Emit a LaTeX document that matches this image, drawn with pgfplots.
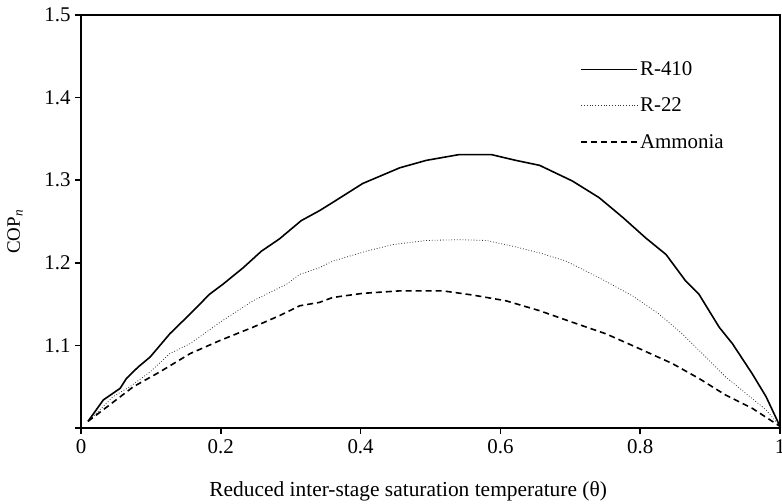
\documentclass[border=0pt]{standalone}
\usepackage{fontspec}
\setmainfont{Liberation Serif}
\usepackage{pgfplots}
\pgfplotsset{compat=1.18}
\begin{document}
\begin{tikzpicture}
\begin{pgfinterruptboundingbox}
\begin{axis}[
  name=ax,
  scale only axis,
  width=699bp, height=413bp,
  xmin=0, xmax=1, ymin=1.0, ymax=1.5,
  axis line style={line width=1.6bp},
  tick style={line width=1.6bp, black},
  major tick length=6bp,
  tick align=outside,
  xtick pos=bottom, ytick pos=left,
  xtick={0,0.2,0.4,0.6,0.8,1},
  xticklabels={0,0.2,0.4,0.6,0.8,1},
  ytick={1.0,1.1,1.2,1.3,1.4,1.5},
  yticklabels={,1.1,1.2,1.3,1.4,1.5},
  /pgf/number format/assume math mode=true,
  ticklabel style={font=\fontsize{21}{24}\selectfont},
  xticklabel style={yshift=-2bp},
  yticklabel style={xshift=-1bp},
  xlabel={Reduced inter-stage saturation temperature (θ)},
  ylabel={COP\textsubscript{\itshape n}},
  every axis x label/.style={at={([yshift=-63bp]rel axis cs:0.468,0)}, anchor=center,
     font=\fontsize{21.5}{24}\selectfont},
  every axis y label/.style={at={([xshift=-66bp]rel axis cs:0,0.475)}, anchor=center, rotate=90,
     font=\fontsize{19}{22}\selectfont},
  legend style={draw=none, fill=none, at={(rel axis cs:0.71,0.897)}, anchor=north west,
    font=\fontsize{21}{24}\selectfont, row sep=17bp,
    /tikz/every even column/.append style={column sep=0bp}},
  legend cell align=left,
  legend image code/.code={\draw[#1] (0bp,0bp) -- (56bp,0bp);},
]
\addplot[black, line width=1.6bp] coordinates {
(0.01,1.008) (0.032,1.034) (0.056,1.048) (0.065,1.060) (0.082,1.074) (0.099,1.086)
(0.127,1.114) (0.156,1.138) (0.184,1.162) (0.203,1.174) (0.232,1.194) (0.258,1.214)
(0.284,1.229) (0.315,1.251) (0.341,1.263) (0.360,1.273) (0.403,1.296) (0.456,1.315)
(0.494,1.324) (0.541,1.331) (0.587,1.331) (0.622,1.324) (0.656,1.318) (0.703,1.299)
(0.741,1.279) (0.775,1.255) (0.808,1.230) (0.837,1.210) (0.865,1.178) (0.884,1.162)
(0.913,1.122) (0.932,1.102) (0.960,1.066) (0.980,1.038) (1.0,1.002)};
\addlegendentry{R-410}
\addplot[black!80, line width=0.8bp, dotted] coordinates {
(0.01,1.008) (0.046,1.038) (0.070,1.050) (0.099,1.068) (0.127,1.090) (0.156,1.102)
(0.199,1.128) (0.246,1.154) (0.294,1.174) (0.313,1.186) (0.341,1.194) (0.360,1.202)
(0.408,1.214) (0.446,1.222) (0.494,1.227) (0.541,1.228) (0.580,1.227) (0.618,1.220)
(0.656,1.212) (0.694,1.202) (0.741,1.182) (0.789,1.160) (0.827,1.138) (0.860,1.114)
(0.889,1.090) (0.922,1.062) (0.951,1.042) (0.980,1.022) (1.0,1.002)};
\addlegendentry{R-22}
\addplot[black, line width=1.6bp, dash pattern=on 6bp off 4bp] coordinates {
(0.01,1.008) (0.041,1.028) (0.075,1.050) (0.113,1.068) (0.156,1.090) (0.199,1.106)
(0.246,1.122) (0.284,1.136) (0.313,1.148) (0.341,1.152) (0.360,1.158) (0.403,1.163)
(0.456,1.166) (0.518,1.166) (0.560,1.161) (0.608,1.154) (0.656,1.142) (0.703,1.128)
(0.751,1.114) (0.799,1.096) (0.846,1.078) (0.884,1.060) (0.922,1.040) (0.960,1.024)
(1.0,1.002)};
\addlegendentry{Ammonia}
\end{axis}
\end{pgfinterruptboundingbox}
\path ([shift={(-81bp,-76bp)}]ax.south west) rectangle ([shift={(2bp,15bp)}]ax.north east);
\end{tikzpicture}
\end{document}
